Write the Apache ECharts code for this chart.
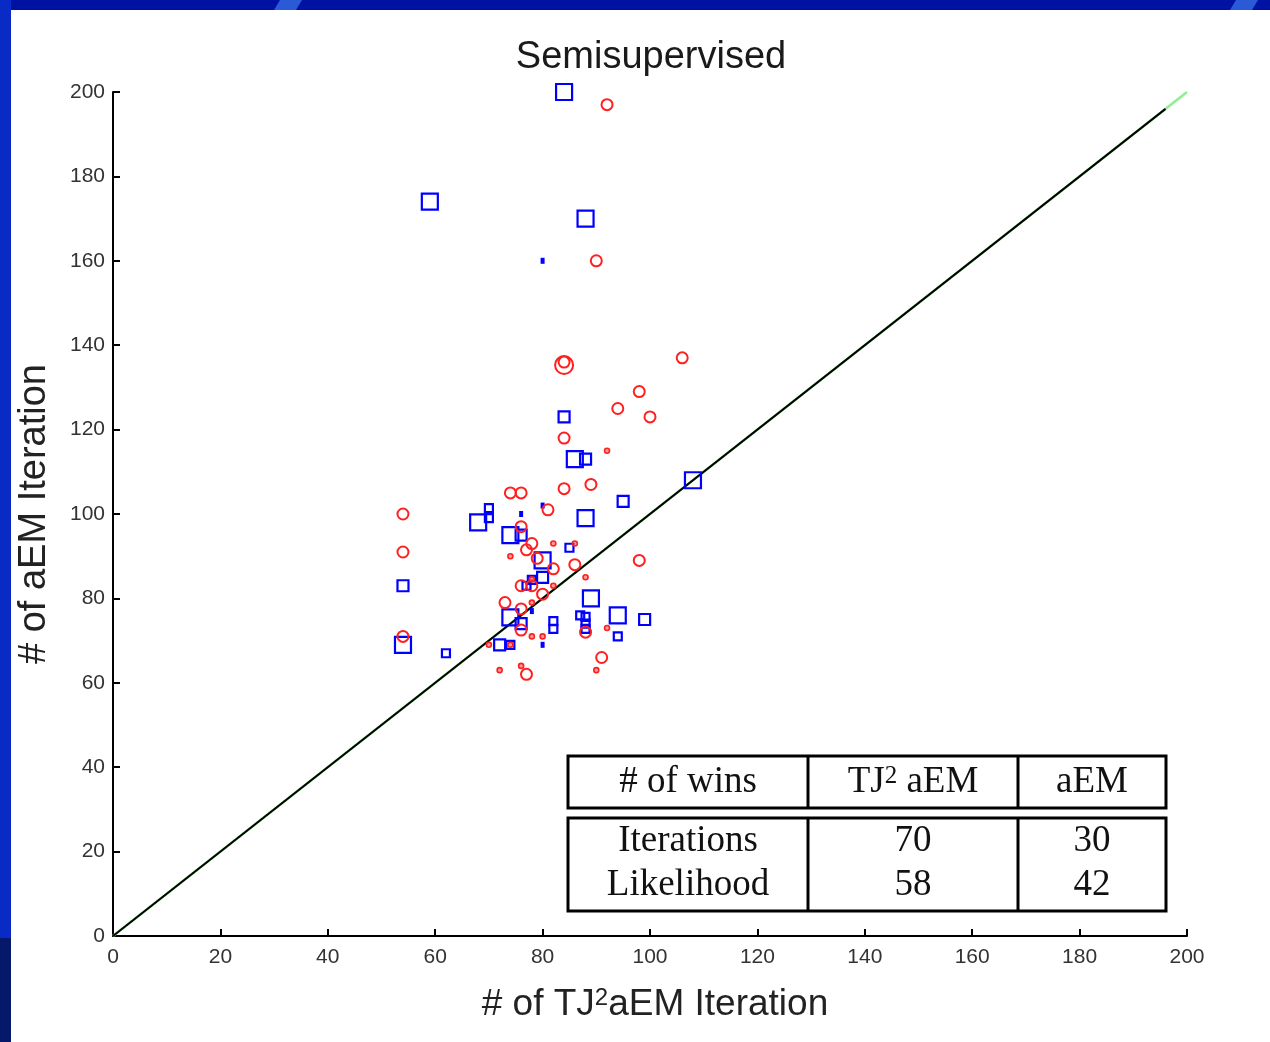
<!DOCTYPE html>
<html>
<head>
<meta charset="utf-8">
<script src="https://cdn.jsdelivr.net/npm/echarts@6/dist/echarts.min.js"></script>
<style>
  html, body { margin: 0; padding: 0; background: #0a1aa8; }
  #chart { width: 1270px; height: 1042px; }
</style>
</head>
<body>
<div id="chart"></div>
<script>
// Axis ranges and ticks
const axisMin = 0;
const axisMax = 200;
const axisStep = 20;

// Square markers: [x, y, size level]  (0 = tiny filled, 1 = small, 2 = medium, 3 = large)
const squarePoints = [
  [84, 200, 3], [59, 174, 3], [88, 170, 3], [80, 160, 0],
  [84, 123, 2], [86, 113, 3], [88, 113, 2], [108, 108, 3],
  [95, 103, 2], [70, 101.4, 1], [70, 99, 1], [68, 98, 3],
  [76, 100, 0], [74, 95, 3], [76, 95, 2], [88, 99, 3],
  [85, 92, 1], [80, 102, 0], [80, 89, 3], [80, 85, 2],
  [78, 84.4, 1], [77, 83, 1], [78, 77, 0], [89, 80, 3],
  [94, 76, 3], [99, 75, 2], [87, 76, 1], [88, 75.6, 1],
  [88, 74, 1], [88, 72.8, 1], [94, 71, 1], [82, 74.6, 1],
  [82, 72.8, 1], [74, 75.5, 3], [76, 74, 2], [72, 69, 2],
  [74, 69, 1], [80, 69, 0], [54, 69, 3], [62, 67, 1],
  [54, 83, 2]
];

// Circle markers: [x, y, size level]  (0 = tiny, 1 = medium, 2 = large)
const circlePoints = [
  [92, 197, 1], [90, 160, 1], [84, 135.3, 2], [84, 136, 1],
  [106, 137, 1], [98, 129, 1], [94, 125, 1], [100, 123, 1],
  [84, 118, 1], [92, 115, 0], [84, 106, 1], [89, 107, 1],
  [74, 105, 1], [76, 105, 1], [81, 101, 1], [54, 100, 1],
  [54, 91, 1], [54, 71, 1], [76, 97, 1], [78, 93, 1],
  [77, 91.5, 1], [79, 89.5, 1], [74, 90, 0], [82, 93, 0],
  [86, 93, 0], [82, 87, 1], [86, 88, 1], [98, 89, 1],
  [88, 85, 0], [76, 83, 1], [78, 83, 1], [80, 81, 1],
  [82, 83, 0], [78, 84.5, 0], [73, 79, 1], [76, 77.5, 1],
  [78, 79, 0], [76, 72.5, 1], [74, 69, 0], [70, 69, 0],
  [78, 71, 0], [80, 71, 0], [72, 63, 0], [76, 64, 0],
  [77, 62, 1], [88, 72, 1], [92, 73, 0], [91, 66, 1],
  [90, 63, 0]
];

// Reference diagonals
const identityLine = [[0, 0], [200, 200]];
const fitLine = [[0, 0], [196, 196]];

// Summary table
const tableHeader = ['# of wins', 'TJ{s|2} aEM', 'aEM'];
const tableRows = [
  ['Iterations', 70, 30],
  ['Likelihood', 58, 42]
];

const SANS = '"Liberation Sans", Arial, sans-serif';
const SERIF = '"Liberation Serif", "Times New Roman", serif';
const BLUE = '#0000ff';
const RED = '#ff2020';

function squareItem(p) {
  const lvl = p[2];
  if (lvl === 0) {
    return { value: [p[0], p[1]], symbolSize: [4, 6],
      itemStyle: { color: BLUE, borderWidth: 0, opacity: 1 } };
  }
  return { value: [p[0], p[1]], symbolSize: [0, 8, 11, 16][lvl],
    itemStyle: { color: 'rgba(0,0,0,0)', borderColor: BLUE, borderWidth: 2.2, opacity: 1 } };
}

function circleItem(p) {
  const lvl = p[2];
  if (lvl === 0) {
    return { value: [p[0], p[1]], symbolSize: 5,
      itemStyle: { color: 'rgba(255,60,60,0.5)', borderColor: RED, borderWidth: 1.6, opacity: 1 } };
  }
  return { value: [p[0], p[1]], symbolSize: [0, 11, 18][lvl],
    itemStyle: { color: 'rgba(0,0,0,0)', borderColor: RED, borderWidth: 2, opacity: 1 } };
}

// Table geometry
const tbl = { x0: 568, x1: 1166, cols: [808, 1018], hTop: 756, hBot: 808, bTop: 818, bBot: 911 };
const colCenters = [(tbl.x0 + tbl.cols[0]) / 2, (tbl.cols[0] + tbl.cols[1]) / 2, (tbl.cols[1] + tbl.x1) / 2];
const rowCenters = [841, 885];

function tableGraphics() {
  const lineStyle = { stroke: '#000', lineWidth: 3, fill: null };
  const els = [
    { type: 'rect', shape: { x: tbl.x0, y: tbl.hTop, width: tbl.x1 - tbl.x0, height: tbl.hBot - tbl.hTop }, style: lineStyle },
    { type: 'rect', shape: { x: tbl.x0, y: tbl.bTop, width: tbl.x1 - tbl.x0, height: tbl.bBot - tbl.bTop }, style: lineStyle }
  ];
  tbl.cols.forEach(cx => {
    els.push({ type: 'line', shape: { x1: cx, y1: tbl.hTop, x2: cx, y2: tbl.hBot }, style: { stroke: '#000', lineWidth: 3 } });
    els.push({ type: 'line', shape: { x1: cx, y1: tbl.bTop, x2: cx, y2: tbl.bBot }, style: { stroke: '#000', lineWidth: 3 } });
  });
  const textStyle = (txt, x, y) => ({
    type: 'text', x: x, y: y,
    style: {
      text: txt, fill: '#111', font: '37px ' + SERIF,
      align: 'center', verticalAlign: 'middle', textAlign: 'center', textVerticalAlign: 'middle',
      rich: { s: { fontSize: 25, fontFamily: SERIF, verticalAlign: 'top', fill: '#111' } }
    }
  });
  tableHeader.forEach((h, i) => els.push(textStyle(h, colCenters[i], 782)));
  tableRows.forEach((row, r) => row.forEach((v, i) => els.push(textStyle(String(v), colCenters[i], rowCenters[r]))));
  return els;
}

const axisCommon = {
  type: 'value', min: axisMin, max: axisMax, interval: axisStep,
  axisLine: { show: true, lineStyle: { color: '#000', width: 2 } },
  axisTick: { show: true, inside: true, length: 7, lineStyle: { color: '#000', width: 2 } },
  splitLine: { show: false },
  axisLabel: { fontSize: 21, color: '#333', fontFamily: SANS }
};

const chart = echarts.init(document.getElementById('chart'), null, { renderer: 'canvas' });
chart.setOption({
  backgroundColor: 'transparent',
  animation: false,
  graphic: [
    // slide frame
    { type: 'rect', z: -20, shape: { x: 0, y: 0, width: 1270, height: 1042 }, style: { fill: '#0012a4' } },
    { type: 'rect', z: -19, shape: { x: 0, y: 0, width: 11, height: 938 }, style: { fill: '#0a2ac6' } },
    { type: 'rect', z: -19, shape: { x: 0, y: 938, width: 11, height: 104 }, style: { fill: '#06186a' } },
    { type: 'polygon', z: -19, shape: { points: [[280, 0], [302, 0], [296, 10], [274, 10]] }, style: { fill: '#2a5ad6' } },
    { type: 'polygon', z: -19, shape: { points: [[1236, 0], [1258, 0], [1252, 10], [1230, 10]] }, style: { fill: '#2a5ad6' } },
    { type: 'rect', z: -18, shape: { x: 11, y: 10, width: 1259, height: 1032 }, style: { fill: '#ffffff' } },
    // title
    { type: 'text', x: 651, y: 58, z: 10,
      style: { text: 'Semisupervised', fill: '#1a1a1a', font: '38px ' + SANS,
        align: 'center', verticalAlign: 'middle', textAlign: 'center', textVerticalAlign: 'middle' } }
  ].concat(tableGraphics()),
  grid: { left: 113, right: 83, top: 92, bottom: 106, containLabel: false },
  xAxis: Object.assign({}, axisCommon, {
    axisLabel: Object.assign({}, axisCommon.axisLabel, { margin: 11 }),
    name: '# of TJ{s|2}aEM Iteration',
    nameLocation: 'middle', nameGap: 50,
    nameTextStyle: {
      fontSize: 37, color: '#222', fontFamily: SANS, padding: [0, 0, 0, 10],
      rich: { s: { fontSize: 24, fontFamily: SANS, color: '#222', verticalAlign: 'top' } }
    }
  }),
  yAxis: Object.assign({}, axisCommon, {
    axisLabel: Object.assign({}, axisCommon.axisLabel, { margin: 8 }),
    name: '# of aEM Iteration',
    nameLocation: 'middle', nameGap: 59,
    nameTextStyle: { fontSize: 38, color: '#222', fontFamily: SANS }
  }),
  series: [
    { type: 'line', data: identityLine, symbol: 'none', z: 3,
      lineStyle: { color: '#8ef08e', width: 2.6 } },
    { type: 'line', data: fitLine, symbol: 'none', z: 4,
      lineStyle: { color: '#000', width: 2 } },
    { type: 'scatter', symbol: 'rect', z: 5, data: squarePoints.map(squareItem) },
    { type: 'scatter', symbol: 'circle', z: 6, data: circlePoints.map(circleItem) }
  ]
});
</script>
</body>
</html>
